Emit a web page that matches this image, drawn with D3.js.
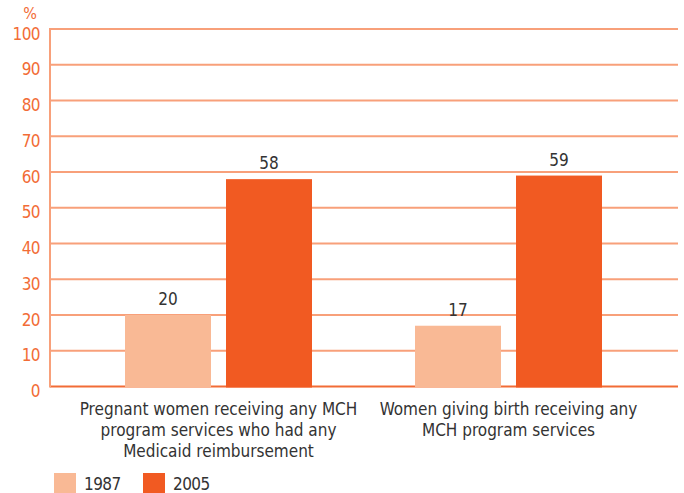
<!DOCTYPE html>
<html>
<head>
<meta charset="utf-8">
<script src="https://cdn.jsdelivr.net/npm/d3@7"></script>
<style>
  body { margin: 0; background: #fff; }
  svg text { font-family: "Liberation Sans Narrow", "DejaVu Sans Condensed", "Roboto Condensed", sans-serif; }
</style>
</head>
<body>
<svg width="684" height="493"></svg>
<script>
var categories = [
  ["Pregnant women receiving any MCH", "program services who had any", "Medicaid reimbursement"],
  ["Women giving birth receiving any", "MCH program services"]
];
var years = ["1987", "2005"];
var values1987 = [20, 17];
var values2005 = [58, 59];
var yTicks = [0, 10, 20, 30, 40, 50, 60, 70, 80, 90, 100];

var colours = {"1987": "#f9b995", "2005": "#f15a22"};
var orange = "#f26c36";

var svg = d3.select("svg");

var y = d3.scaleLinear().domain([0, 100]).range([386.5, 29]);
var x0 = d3.scaleBand().domain([0, 1]).range([73.5, 653.5]);
var x1 = d3.scaleBand().domain(years).range([0, 187]).paddingInner(15 / 101);
var groupOffset = (x0.bandwidth() - 187) / 2;

// gridlines
svg.append("g")
  .selectAll("line")
  .data(yTicks)
  .enter()
  .append("line")
  .attr("x1", 50).attr("x2", 678)
  .attr("y1", d => y(d)).attr("y2", d => y(d))
  .attr("stroke", d => d === 0 ? "#f26c36" : "#f8a07a")
  .attr("stroke-width", 2);

// left axis line
svg.append("line")
  .attr("x1", 50).attr("x2", 50)
  .attr("y1", y(100) - 1).attr("y2", y(0) + 1)
  .attr("stroke", "#f8a07a")
  .attr("stroke-width", 2);

// y tick labels (sit a little below their gridline, like the original)
var yAxis = d3.axisLeft(y).tickValues(yTicks).tickSize(0).tickPadding(10);
var yg = svg.append("g").attr("transform", "translate(50,4)").call(yAxis);
yg.select(".domain").remove();
yg.selectAll("text")
  .attr("fill", orange)
  .style("font-size", "17px")
  .style("letter-spacing", "-0.6px")
  .attr("dy", "0.36em");

svg.append("text")
  .attr("x", 30).attr("y", 19)
  .attr("text-anchor", "middle")
  .attr("fill", orange)
  .style("font-size", "16px")
  .text("%");

// bars
var series = [
  {year: "1987", values: values1987},
  {year: "2005", values: values2005}
];

series.forEach(function (s) {
  var g = svg.append("g");
  g.selectAll("rect")
    .data(s.values)
    .enter()
    .append("rect")
    .attr("x", (d, i) => x0(i) + groupOffset + x1(s.year))
    .attr("width", x1.bandwidth())
    .attr("y", d => y(d))
    .attr("height", d => y(0) - y(d) + 1)
    .attr("fill", colours[s.year]);
  g.selectAll("text")
    .data(s.values)
    .enter()
    .append("text")
    .attr("x", (d, i) => x0(i) + groupOffset + x1(s.year) + x1.bandwidth() / 2)
    .attr("y", d => y(d) - 10)
    .attr("text-anchor", "middle")
    .attr("fill", "#333")
    .style("font-size", "17px")
    .text(d => d);
});

// category labels
categories.forEach(function (lines, i) {
  var t = svg.append("text")
    .attr("text-anchor", "middle")
    .attr("fill", "#333")
    .style("font-size", "17px");
  lines.forEach(function (l, j) {
    t.append("tspan")
      .attr("x", x0(i) + x0.bandwidth() / 2)
      .attr("y", 415 + j * 21)
      .text(l);
  });
});

// legend
var legend = svg.append("g")
  .selectAll("g")
  .data(years)
  .enter()
  .append("g")
  .attr("transform", (d, i) => "translate(" + (54 + i * 89) + ",473)");
legend.append("rect")
  .attr("width", 22).attr("height", 20)
  .attr("fill", d => colours[d]);
legend.append("text")
  .attr("x", 30).attr("y", 17)
  .attr("fill", "#333")
  .style("font-size", "17px")
  .style("letter-spacing", "-0.6px")
  .text(d => d);
</script>
</body>
</html>
